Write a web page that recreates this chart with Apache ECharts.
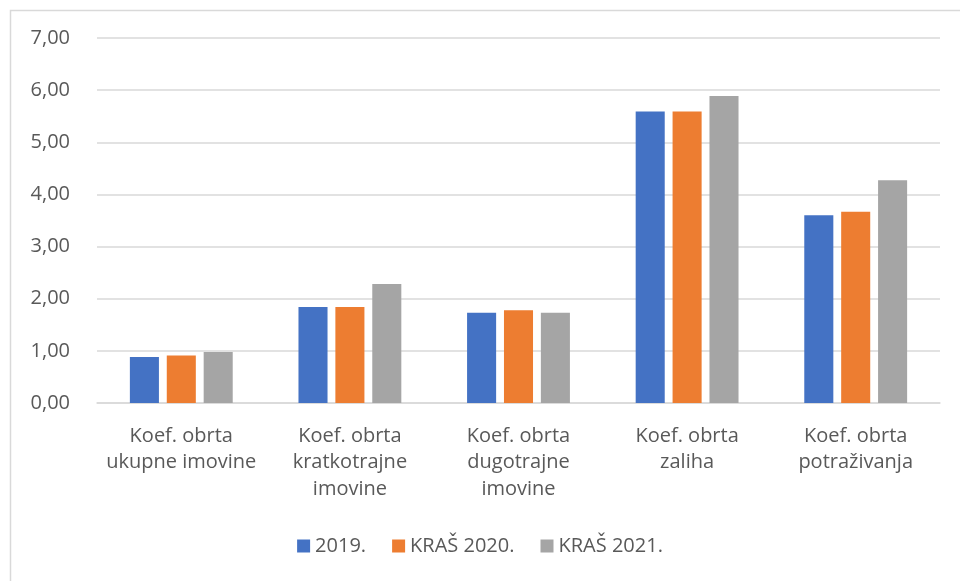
<!DOCTYPE html>
<html>
<head>
<meta charset="utf-8">
<script src="https://cdn.jsdelivr.net/npm/echarts@6/dist/echarts.min.js"></script>
<style>html,body{margin:0;padding:0;background:#fff}#c{width:960px;height:581px}</style>
</head>
<body>
<div id="c"></div>
<script>
const categories = ['Koef. obrta\nukupne imovine', 'Koef. obrta\nkratkotrajne\nimovine', 'Koef. obrta\ndugotrajne\nimovine', 'Koef. obrta\nzaliha', 'Koef. obrta\npotraživanja'];
const seriesNames = ['2019.', 'KRAŠ 2020.', 'KRAŠ 2021.'];
const values2019 = [0.88, 1.84, 1.73, 5.59, 3.60];
const values2020 = [0.91, 1.84, 1.78, 5.59, 3.67];
const values2021 = [0.98, 2.28, 1.73, 5.89, 4.27];
const colors = ['#4472C4', '#ED7D31', '#A5A5A5'];
const font = '"Open Sans", "Noto Sans", sans-serif';

const chart = echarts.init(document.getElementById('c'), null, {renderer: 'canvas'});
const data = [values2019, values2020, values2021];
chart.setOption({
  animation: false,
  color: colors,
  textStyle: {fontFamily: font, color: '#595959'},
  graphic: [{
    type: 'rect', left: 8, top: 8, shape: {width: 1000, height: 1000},
    style: {fill: 'none', stroke: '#d9d9d9', lineWidth: 1.5}, silent: true, z: -1
  }],
  grid: {left: 97, right: 20, top: 38, bottom: 178},
  legend: {
    bottom: 20, left: 'center', itemWidth: 13, itemHeight: 13, itemGap: 26,
    icon: 'rect',
    textStyle: {fontFamily: font, fontSize: 20, color: '#595959'},
    data: seriesNames
  },
  xAxis: {
    type: 'category', data: categories,
    axisLine: {lineStyle: {color: '#d9d9d9', width: 1.5}},
    axisTick: {show: false},
    axisLabel: {fontSize: 20, color: '#595959', lineHeight: 26.5, margin: 20, interval: 0, fontFamily: font}
  },
  yAxis: {
    type: 'value', min: 0, max: 7, interval: 1,
    axisLine: {show: false}, axisTick: {show: false},
    splitLine: {lineStyle: {color: '#d9d9d9', width: 1.5}},
    axisLabel: {fontSize: 20, color: '#595959', margin: 27, fontFamily: font,
      formatter: v => v.toFixed(2).replace('.', ',')}
  },
  series: seriesNames.map((n, i) => ({
    name: n, type: 'bar', data: data[i],
    barGap: '27%', barCategoryGap: '39%',
    itemStyle: {color: colors[i]}
  }))
});
</script>
</body>
</html>
